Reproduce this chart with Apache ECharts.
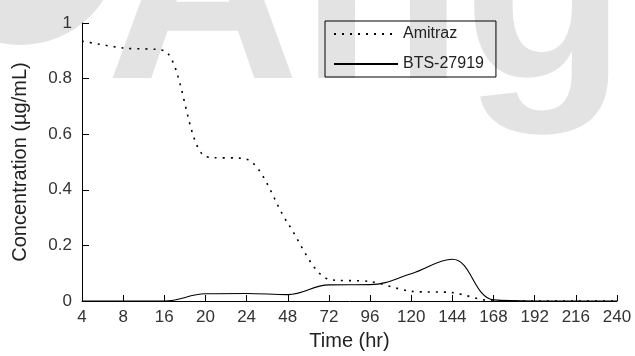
<!DOCTYPE html>
<html>
<head>
<meta charset="utf-8">
<script src="https://cdn.jsdelivr.net/npm/echarts@6/dist/echarts.min.js"></script>
<style>
  html, body { margin: 0; padding: 0; background: #fff; }
  #chart { width: 635px; height: 356px; }
</style>
</head>
<body>
<div id="chart"></div>
<script>
const hours = ['4', '8', '16', '20', '24', '48', '72', '96', '120', '144', '168', '192', '216', '240'];
const amitraz = [0.935, 0.91, 0.90, 0.52, 0.51, 0.28, 0.078, 0.07, 0.035, 0.03, 0, 0, 0, 0];
const bts27919 = [0, 0, 0, 0.026, 0.027, 0.023, 0.058, 0.059, 0.098, 0.15, 0.004, 0, 0, 0];
const yTicks = [0, 0.2, 0.4, 0.6, 0.8, 1];

const font = 'Liberation Sans, Arial, sans-serif';

const chart = echarts.init(document.getElementById('chart'));
chart.setOption({
  animation: false,
  // faint watermark behind the plot
  graphic: [
    {
      type: 'circle', z: -10, silent: true,
      shape: { cx: 20, cy: -55, r: 100 },
      style: { fill: '#e3e3e3' }
    },
    {
      type: 'text', z: -10, silent: true,
      left: 106, top: -130,
      style: {
        text: 'Angi', fill: '#e3e3e3',
        font: 'bold 268px ' + font
      }
    }
  ],
  grid: { left: 82, right: 18, top: 23, bottom: 51 },
  legend: {
    orient: 'vertical',
    left: 325, top: 21,
    padding: [5, 12, 5, 8],
    itemWidth: 64, itemHeight: 14, itemGap: 14,
    borderColor: '#000', borderWidth: 1,
    // hide the marker dot that line series put in the legend icon
    itemStyle: { opacity: 0 },
    textStyle: { fontFamily: font, fontSize: 16, color: '#222' },
    data: ['Amitraz', 'BTS-27919']
  },
  xAxis: {
    type: 'category',
    data: hours,
    boundaryGap: false,
    name: 'Time (hr)',
    nameLocation: 'middle',
    nameGap: 30,
    nameTextStyle: { fontFamily: font, fontSize: 20, color: '#222' },
    axisLine: { lineStyle: { color: '#000', width: 1 } },
    axisTick: { inside: true, length: 6, alignWithLabel: true, lineStyle: { color: '#000' } },
    axisLabel: { interval: 0, margin: 8, fontFamily: font, fontSize: 17, color: '#333' },
    splitLine: { show: false }
  },
  yAxis: {
    type: 'value',
    min: yTicks[0], max: yTicks[yTicks.length - 1], interval: 0.2,
    name: 'Concentration (\u00b5g/mL)',
    nameLocation: 'middle',
    nameGap: 52,
    nameTextStyle: { fontFamily: font, fontSize: 20, color: '#222' },
    axisLine: { show: true, lineStyle: { color: '#000', width: 1 } },
    axisTick: { show: true, inside: true, length: 7, lineStyle: { color: '#000' } },
    axisLabel: { margin: 10, fontFamily: font, fontSize: 17, color: '#333' },
    splitLine: { show: false }
  },
  series: [
    {
      name: 'Amitraz',
      type: 'line',
      data: amitraz,
      smooth: 0.3,
      symbol: 'none',
      z: 3,
      lineStyle: { color: '#000', width: 1.6, type: [2, 6] },
      itemStyle: { color: '#000' }
    },
    {
      name: 'BTS-27919',
      type: 'line',
      data: bts27919,
      smooth: 0.4,
      symbol: 'none',
      lineStyle: { color: '#000', width: 1.1 },
      itemStyle: { color: '#000' }
    }
  ]
});
</script>
</body>
</html>
